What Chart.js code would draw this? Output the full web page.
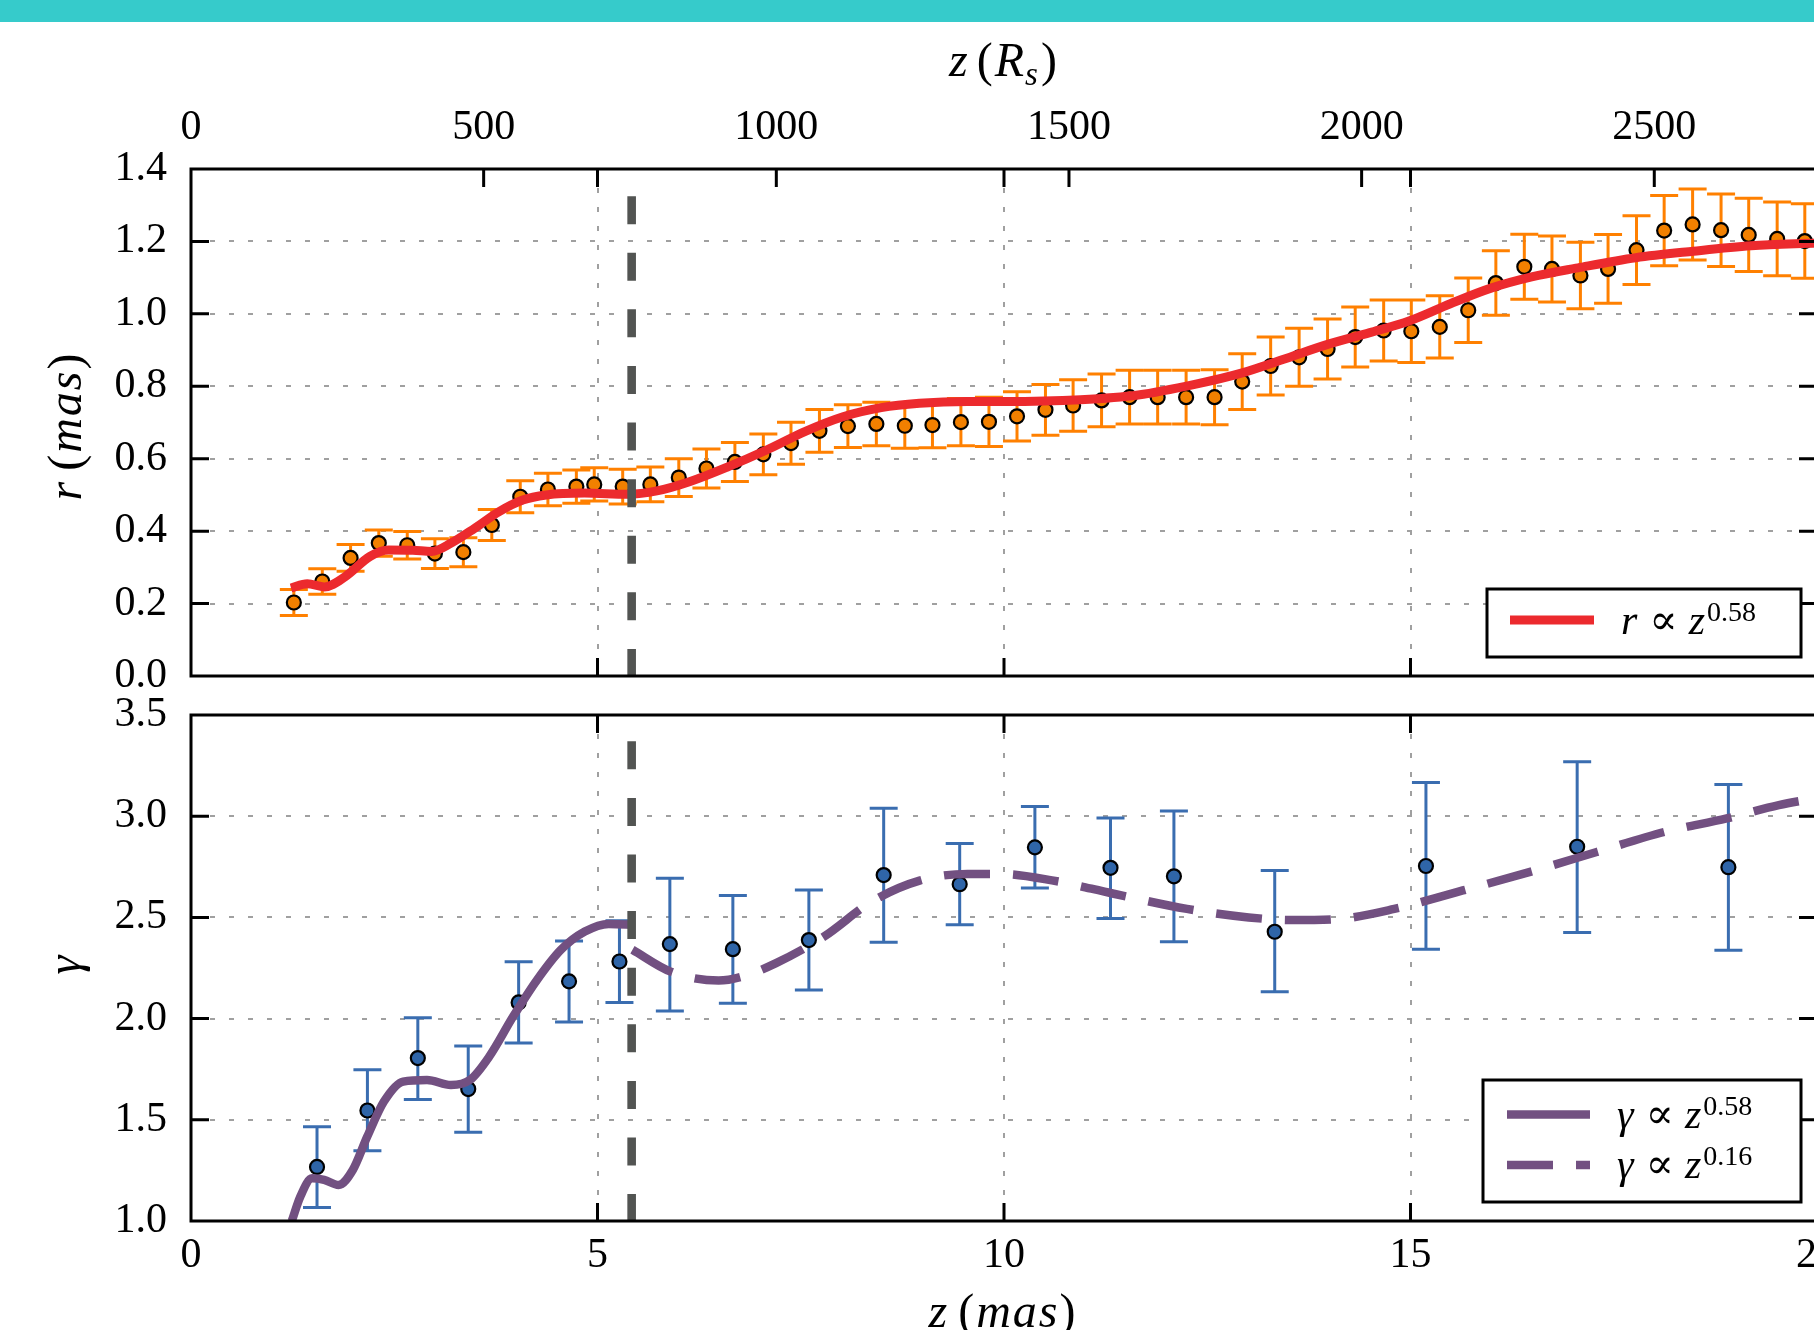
<!DOCTYPE html>
<html><head><meta charset="utf-8">
<script src="https://cdn.jsdelivr.net/npm/chart.js@4/dist/chart.umd.min.js"></script>
<style>
html,body{margin:0;padding:0;background:#fff;overflow:hidden;width:1814px;height:1330px;position:relative;}
#bar{position:absolute;left:0;top:0;width:1814px;height:22px;background:#36CBCB;}
#c1{position:absolute;left:0;top:0;}
#c2{position:absolute;left:0;top:663px;}
</style></head><body>
<canvas id="c1" width="1900" height="728"></canvas>
<canvas id="c2" width="1900" height="667"></canvas>
<div id="bar"></div>
<script>
// ---------- data ----------
const rZ   = [1.265,1.615,1.963,2.31,2.66,3.00,3.35,3.70,4.05,4.39,4.74,4.96,5.31,5.65,6.00,6.34,6.69,7.04,7.38,7.73,8.08,8.43,8.78,9.12,9.47,9.815,10.16,10.51,10.85,11.20,11.545,11.89,12.24,12.59,12.93,13.28,13.63,13.98,14.32,14.67,15.01,15.36,15.71,16.05,16.40,16.74,17.09,17.43,17.78,18.12,18.47,18.82,19.16,19.51,19.85];
const rVal = [0.203,0.261,0.326,0.367,0.361,0.338,0.342,0.417,0.495,0.515,0.523,0.529,0.523,0.529,0.548,0.573,0.591,0.612,0.643,0.677,0.690,0.696,0.691,0.693,0.701,0.702,0.717,0.735,0.747,0.761,0.770,0.770,0.770,0.770,0.813,0.856,0.880,0.903,0.936,0.954,0.952,0.964,1.010,1.085,1.130,1.124,1.106,1.124,1.176,1.230,1.247,1.231,1.218,1.207,1.201];
const rErr = [0.036,0.035,0.037,0.036,0.038,0.041,0.040,0.043,0.044,0.045,0.046,0.046,0.048,0.048,0.052,0.054,0.054,0.056,0.058,0.059,0.059,0.060,0.062,0.063,0.065,0.068,0.068,0.070,0.071,0.073,0.074,0.074,0.074,0.076,0.077,0.080,0.080,0.083,0.083,0.084,0.086,0.086,0.089,0.089,0.090,0.091,0.092,0.095,0.095,0.097,0.098,0.100,0.101,0.102,0.103];

const rFitZ   = [1.23,1.43,1.64,1.90,2.20,2.43,2.73,2.96,3.20,3.49,3.79,4.08,4.37,4.84,5.37,5.73,6.14,6.61,7.08,7.55,8.02,8.49,8.96,9.55,10.0,10.94,11.65,12.36,12.93,13.43,14.0,14.5,14.99,15.49,15.99,16.49,17.06,17.77,18.48,19.19,20.0];
const rFitVal = [0.243,0.255,0.246,0.275,0.330,0.348,0.347,0.344,0.367,0.408,0.454,0.486,0.500,0.505,0.502,0.511,0.537,0.578,0.624,0.675,0.716,0.741,0.753,0.758,0.758,0.763,0.776,0.806,0.837,0.874,0.917,0.948,0.981,1.028,1.071,1.102,1.127,1.155,1.173,1.188,1.196];

const gZ   = [1.55,2.17,2.79,3.41,4.03,4.65,5.27,5.89,6.665,7.6,8.52,9.455,10.38,11.31,12.09,13.33,15.19,17.05,18.91];
const gVal = [1.267,1.546,1.805,1.652,2.08,2.184,2.282,2.368,2.343,2.388,2.709,2.664,2.846,2.745,2.703,2.429,2.754,2.849,2.748];
const gLo  = [1.067,1.347,1.60,1.439,1.88,1.983,2.08,2.037,2.076,2.141,2.377,2.464,2.645,2.495,2.38,2.133,2.343,2.426,2.338];
const gHi  = [1.466,1.747,2.004,1.865,2.281,2.384,2.484,2.694,2.608,2.635,3.039,2.865,3.048,2.991,3.026,2.732,3.167,3.269,3.157];

const gFitAZ   = [1.24,1.344,1.49,1.638,1.815,1.99,2.168,2.373,2.609,2.903,3.197,3.432,3.668,3.962,4.256,4.55,4.844,5.138,5.46];
const gFitAVal = [1.0,1.12,1.211,1.203,1.178,1.252,1.417,1.59,1.689,1.697,1.672,1.697,1.812,2.01,2.191,2.34,2.43,2.468,2.463];
const gFitBZ   = [5.43,5.90,6.49,6.785,7.196,7.785,8.373,8.961,9.55,9.95,10.59,11.35,12.25,13.01,13.53,14.1,14.8,15.57,16.46,17.29,18.12,18.89,19.53,20.0];
const gFitBVal = [2.34,2.232,2.188,2.208,2.274,2.405,2.578,2.682,2.715,2.715,2.683,2.617,2.542,2.5,2.487,2.492,2.542,2.625,2.724,2.823,2.922,2.989,3.055,3.09];

const breakZ = 5.42;
const breakTop = [1.325, 0.0];
const breakBot = [3.37, 1.0];

const zMasRange = [0, 20];
const zRsMax = 2778;       // R_s at 20 mas
const rsTicks = [0, 500, 1000, 1500, 2000, 2500];
const rRange = [0, 1.4];
const gRange = [1.0, 3.5];
const legendTop = ['r', '0.58'];
const legendBot = [['\u03b3', '0.58'], ['\u03b3', '0.16']];

// ---------- style ----------
const SERIF = '"Liberation Serif","DejaVu Serif",serif';
const GRID = '#a0a0a0';
const RED = '#EC2A2E', ORANGE = '#F28000', ORANGE_E = '#FF8000';
const BLUE = '#2F65A8', BLUE_E = '#3A6DB0', PURPLE = '#725081', DARK = '#525452';
const TICKFONT = {family: SERIF, size: 42};
const TL = 18;

function fnt(s){ return (s.it ? 'italic ' : '') + (s.size || 48) + 'px ' + SERIF; }
function drawRich(ctx, segs, x, y, align){
  let w = 0;
  const ws = segs.map(s => { ctx.font = fnt(s); const v = ctx.measureText(s.t).width + (s.g || 0); w += v; return v; });
  let cx = align === 'center' ? x - w / 2 : x;
  ctx.textAlign = 'left'; ctx.textBaseline = 'alphabetic'; ctx.fillStyle = '#000';
  segs.forEach((s, i) => { ctx.font = fnt(s); ctx.fillText(s.t, cx, y + (s.dy || 0)); cx += ws[i]; });
}

const frameTicks = {
  id: 'frameTicks',
  afterDraw(chart) {
    const {ctx, chartArea: a, scales} = chart;
    ctx.save();
    ctx.strokeStyle = '#000'; ctx.lineWidth = 3; ctx.lineCap = 'butt';
    ctx.beginPath();
    const y = scales.y, x = scales.x;
    y.ticks.forEach(t => {
      if (t.value <= y.min + 1e-9 || t.value >= y.max - 1e-9) return;
      const p = y.getPixelForValue(t.value);
      ctx.moveTo(a.left, p); ctx.lineTo(a.left + TL, p);
      ctx.moveTo(a.right, p); ctx.lineTo(a.right - TL, p);
    });
    x.ticks.forEach(t => {
      if (t.value <= x.min || t.value >= x.max) return;
      const p = x.getPixelForValue(t.value);
      ctx.moveTo(p, a.top); ctx.lineTo(p, a.top + TL);
      ctx.moveTo(p, a.bottom); ctx.lineTo(p, a.bottom - TL);
    });
    if (scales.xTop) {
      const xt = scales.xTop;
      xt.ticks.forEach(t => {
        if (t.value <= xt.min || t.value >= xt.max) return;
        const p = xt.getPixelForValue(t.value);
        ctx.moveTo(p, a.top); ctx.lineTo(p, a.top + TL);
      });
    }
    ctx.stroke();
    ctx.strokeRect(a.left, a.top, a.right - a.left, a.bottom - a.top);
    ctx.restore();
  }
};

function errPlugin(xs, lo, hi, color, capW, lw) {
  return {
    id: 'errbars',
    beforeDatasetsDraw(chart) {
      const {ctx, scales: {x, y}} = chart;
      ctx.save();
      ctx.strokeStyle = color; ctx.lineWidth = lw; ctx.lineCap = 'butt';
      ctx.beginPath();
      xs.forEach((z, i) => {
        const px = x.getPixelForValue(z), p1 = y.getPixelForValue(lo[i]), p2 = y.getPixelForValue(hi[i]);
        ctx.moveTo(px, p1); ctx.lineTo(px, p2);
        ctx.moveTo(px - capW / 2, p1); ctx.lineTo(px + capW / 2, p1);
        ctx.moveTo(px - capW / 2, p2); ctx.lineTo(px + capW / 2, p2);
      });
      ctx.stroke();
      ctx.restore();
    }
  };
}

function pts(xs, ys){ return xs.map((v, i) => ({x: v, y: ys[i]})); }
function gridCfg(){ return {color: GRID, lineWidth: 2, drawTicks: false}; }
function borderCfg(){ return {display: false, dash: [5, 14]}; }

// ---------- top chart ----------
const topText = {
  id: 'topText',
  afterDraw(chart) {
    const ctx = chart.ctx;
    ctx.save();
    drawRich(ctx, [{t:'z', it:1, g:9}, {t:'(', g:2}, {t:'R', it:1, g:1}, {t:'s', it:1, size:33, dy:9, g:3}, {t:')'}], 1003, 76, 'center');
    ctx.save();
    ctx.translate(81, 427); ctx.rotate(-Math.PI / 2);
    drawRich(ctx, [{t:'r', it:1, g:11}, {t:'(', g:2}, {t:'m', it:1, g:2}, {t:'a', it:1, g:2}, {t:'s', it:1, g:2}, {t:')'}], 0, 0, 'center');
    ctx.restore();
    const bx = 1487, by = 589, bw = 314, bh = 68;
    ctx.fillStyle = '#fff'; ctx.fillRect(bx, by, bw, bh);
    ctx.strokeStyle = '#000'; ctx.lineWidth = 3; ctx.strokeRect(bx, by, bw, bh);
    ctx.strokeStyle = RED; ctx.lineWidth = 9; ctx.beginPath(); ctx.moveTo(1510, 620); ctx.lineTo(1594, 620); ctx.stroke();
    drawRich(ctx, [{t: legendTop[0], it:1, size:42, g:12}, {t:'\u221D', size:42, g:11}, {t:'z', it:1, size:42, g:2}, {t: legendTop[1], size:28, dy:-13}], 1621, 634, 'left');
    ctx.restore();
  }
};

new Chart(document.getElementById('c1'), {
  type: 'scatter',
  data: {
    datasets: [
      {label: 'break', data: [{x: breakZ, y: breakTop[0]}, {x: breakZ, y: breakTop[1]}], showLine: true, borderColor: DARK, borderWidth: 8.6, borderDash: [28, 28.6], pointRadius: 0, order: 0},
      {label: 'r fit', data: pts(rFitZ, rFitVal), showLine: true, borderColor: RED, borderWidth: 9, pointRadius: 0, cubicInterpolationMode: 'monotone', order: 1},
      {label: 'r', data: pts(rZ, rVal), showLine: false, pointRadius: 7, pointBackgroundColor: ORANGE, pointBorderColor: '#000', pointBorderWidth: 2.2, order: 2}
    ]
  },
  options: {
    responsive: false, animation: false, devicePixelRatio: 1, events: [],
    layout: {padding: {left: 0, top: 0, right: 83, bottom: 0}},
    plugins: {legend: {display: false}, tooltip: {enabled: false}},
    scales: {
      x: {type: 'linear', position: 'bottom', min: zMasRange[0], max: zMasRange[1],
          ticks: {display: false, stepSize: 5}, grid: gridCfg(), border: borderCfg(),
          afterFit(s){ s.height = 52; }},
      xTop: {type: 'linear', position: 'top', min: 0, max: zRsMax,
          ticks: {font: TICKFONT, color: '#000', padding: 16, maxRotation: 0, autoSkip: false, callback: v => String(v)},
          afterBuildTicks(s){ s.ticks = rsTicks.map(v => ({value: v})); },
          grid: {display: false, drawTicks: false}, border: {display: false},
          afterFit(s){ s.height = 169; }},
      y: {type: 'linear', min: rRange[0], max: rRange[1],
          ticks: {stepSize: 0.2, font: TICKFONT, color: '#000', padding: 24, callback: v => v.toFixed(1)},
          grid: gridCfg(), border: borderCfg(),
          afterFit(s){ s.width = 191; }}
    }
  },
  plugins: [errPlugin(rZ, rZ.map((z, i) => rVal[i] - rErr[i]), rZ.map((z, i) => rVal[i] + rErr[i]), ORANGE_E, 28, 3), frameTicks, topText]
});

// ---------- bottom chart ----------
const OFF = 663;
const botText = {
  id: 'botText',
  afterDraw(chart) {
    const ctx = chart.ctx;
    ctx.save();
    drawRich(ctx, [{t:'z', it:1, g:11}, {t:'(', g:2}, {t:'m', it:1, g:2}, {t:'a', it:1, g:2}, {t:'s', it:1, g:2}, {t:')'}], 1002, 1327 - OFF, 'center');
    ctx.save();
    ctx.translate(80, 965 - OFF); ctx.rotate(-Math.PI / 2);
    drawRich(ctx, [{t:'\u03b3', it:1}], 0, 0, 'center');
    ctx.restore();
    const bx = 1483, by = 1080 - OFF, bw = 318, bh = 122;
    ctx.fillStyle = '#fff'; ctx.fillRect(bx, by, bw, bh);
    ctx.strokeStyle = '#000'; ctx.lineWidth = 3; ctx.strokeRect(bx, by, bw, bh);
    ctx.strokeStyle = PURPLE; ctx.lineWidth = 8.5; ctx.lineCap = 'butt';
    ctx.beginPath(); ctx.moveTo(1507, 1114.5 - OFF); ctx.lineTo(1590, 1114.5 - OFF); ctx.stroke();
    ctx.setLineDash([46, 23]);
    ctx.beginPath(); ctx.moveTo(1507, 1165 - OFF); ctx.lineTo(1590, 1165 - OFF); ctx.stroke();
    ctx.setLineDash([]);
    legendBot.forEach((row, i) => {
      drawRich(ctx, [{t: row[0], it:1, size:42, g:12}, {t:'\u221D', size:42, g:11}, {t:'z', it:1, size:42, g:2}, {t: row[1], size:28, dy:-13}], 1617, 1128 - OFF + i * 49.5, 'left');
    });
    ctx.restore();
  }
};

new Chart(document.getElementById('c2'), {
  type: 'scatter',
  data: {
    datasets: [
      {label: 'break', data: [{x: breakZ, y: breakBot[0]}, {x: breakZ, y: breakBot[1]}], showLine: true, borderColor: DARK, borderWidth: 8.6, borderDash: [28, 28.6], pointRadius: 0, order: 0},
      {label: 'g fit 0.58', data: pts(gFitAZ, gFitAVal), showLine: true, borderColor: PURPLE, borderWidth: 8.5, pointRadius: 0, cubicInterpolationMode: 'monotone', order: 1},
      {label: 'g fit 0.16', data: pts(gFitBZ, gFitBVal), showLine: true, borderColor: PURPLE, borderWidth: 8.5, borderDash: [46, 23], pointRadius: 0, cubicInterpolationMode: 'monotone', order: 1},
      {label: 'gamma', data: pts(gZ, gVal), showLine: false, pointRadius: 7, pointBackgroundColor: BLUE, pointBorderColor: '#000', pointBorderWidth: 2.2, order: 2}
    ]
  },
  options: {
    responsive: false, animation: false, devicePixelRatio: 1, events: [],
    layout: {padding: {left: 0, top: 52, right: 83, bottom: 0}},
    plugins: {legend: {display: false}, tooltip: {enabled: false}},
    scales: {
      x: {type: 'linear', position: 'bottom', min: zMasRange[0], max: zMasRange[1],
          ticks: {stepSize: 5, font: TICKFONT, color: '#000', padding: 10, maxRotation: 0, autoSkip: false},
          grid: gridCfg(), border: borderCfg(),
          afterFit(s){ s.height = 109; }},
      y: {type: 'linear', min: gRange[0], max: gRange[1],
          ticks: {stepSize: 0.5, font: TICKFONT, color: '#000', padding: 24, callback: v => v.toFixed(1)},
          grid: gridCfg(), border: borderCfg(),
          afterFit(s){ s.width = 191; }}
    }
  },
  plugins: [errPlugin(gZ, gLo, gHi, BLUE_E, 28, 3), frameTicks, botText]
});
</script>
</body></html>
